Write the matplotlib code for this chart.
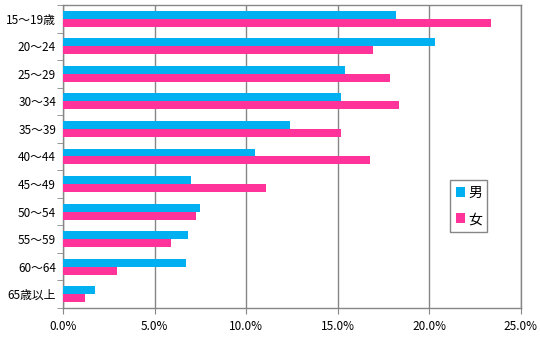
import matplotlib.pyplot as plt
import numpy as np

plt.rcParams['font.family'] = ['Noto Sans CJK JP', 'DejaVu Sans']

categories = ['15～19歳', '20～24', '25～29', '30～34', '35～39', '40～44',
              '45～49', '50～54', '55～59', '60～64', '65歳以上']
male = [18.2, 20.3, 15.4, 15.2, 12.4, 10.5, 7.0, 7.5, 6.8, 6.7, 1.75]
female = [23.35, 16.95, 17.85, 18.35, 15.15, 16.75, 11.1, 7.25, 5.9, 2.95, 1.2]
xticks = [0, 5, 10, 15, 20, 25]

fig = plt.figure(figsize=(5.4, 3.38), dpi=100)
ax = fig.add_axes([0.1167, 0.089, 0.848, 0.896])

y = np.arange(len(categories))
h = 0.29
ax.barh(y - h / 2, male, height=h, color='#00B0F0', label='男', zorder=3)
ax.barh(y + h / 2, female, height=h, color='#FF3399', label='女', zorder=3)

ax.set_ylim(len(categories) - 0.5, -0.5)
ax.set_yticks(y)
ax.set_yticklabels(categories, fontsize=8.5)
ax.set_yticks(np.arange(len(categories) + 1) - 0.5, minor=True)
ax.tick_params(axis='y', which='major', length=0, pad=5)
ax.tick_params(axis='y', which='minor', length=4, color='#868686')

ax.set_xlim(0, 25)
ax.set_xticks(xticks)
ax.set_xticklabels([f'{v:.1f}%' for v in xticks], fontsize=8.5)
ax.tick_params(axis='x', length=4, color='#868686', pad=5)
ax.grid(axis='x', color='#868686', linewidth=1, zorder=0)

for s in ax.spines.values():
    s.set_color('#868686')
    s.set_linewidth(1)

leg = ax.legend(loc='upper left', bbox_to_anchor=(0.845, 0.422), fontsize=10,
                handlelength=0.7, handleheight=0.7, handletextpad=0.2,
                labelspacing=0.9, borderpad=0.4, borderaxespad=0,
                fancybox=False, framealpha=1)
leg.get_frame().set_edgecolor('#868686')

fig.savefig('out.png', dpi=100)
